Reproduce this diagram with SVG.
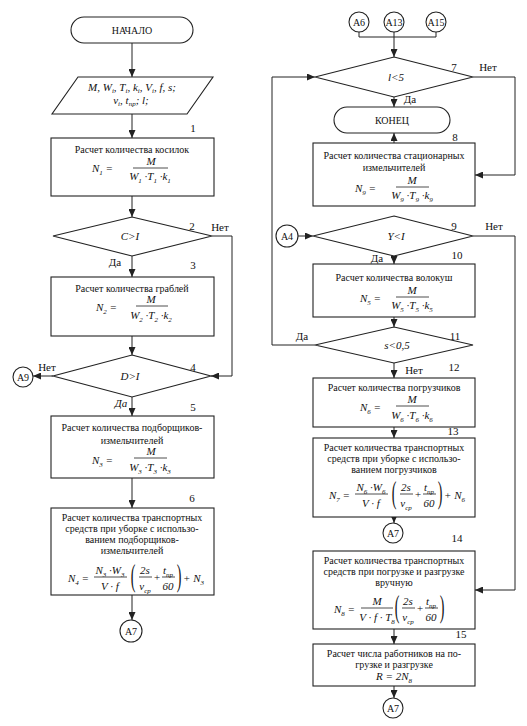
<svg xmlns="http://www.w3.org/2000/svg" width="527" height="726" viewBox="0 0 527 726" font-family="'Liberation Serif','Times New Roman','DejaVu Serif',serif">
<defs>
<style>
.bg{fill:#ffffff}
.box{fill:#ffffff;stroke:#222;stroke-width:1.1}
.c{fill:none;stroke:#222;stroke-width:1}
.fl{stroke:#222;stroke-width:0.8}
.t{font-family:'Liberation Serif','Times New Roman','DejaVu Serif',serif;font-size:10px;fill:#111;text-anchor:middle}
.m{font-family:'Liberation Serif','Times New Roman','DejaVu Serif',serif;font-size:11px;font-style:italic;fill:#111;text-anchor:middle}
.ms{text-anchor:start}
.s{font-size:7px}
.lb{font-family:'Liberation Serif','Times New Roman','DejaVu Serif',serif;font-size:11px;fill:#111;text-anchor:middle}
.p{font-family:'Liberation Serif','Times New Roman','DejaVu Serif',serif;font-size:14px;fill:#111;text-anchor:middle}
</style>
<marker id="ar" viewBox="0 0 8 7" refX="8" refY="3.5" markerWidth="8" markerHeight="7" orient="auto" markerUnits="userSpaceOnUse">
<path d="M0,0 L8,3.5 L0,7 z" fill="#222"/>
</marker>
</defs>
<rect class="bg" x="0" y="0" width="527" height="726"/>

<g id="connectors">
<path class="c" d="M132,43 V77" marker-end="url(#ar)"/>
<path class="c" d="M132,114 V138" marker-end="url(#ar)"/>
<path class="c" d="M132,196 V217" marker-end="url(#ar)"/>
<path class="c" d="M212,236 H232 V376 H211" marker-end="url(#ar)"/>
<path class="c" d="M132,256 V277" marker-end="url(#ar)"/>
<path class="c" d="M132,336 V355" marker-end="url(#ar)"/>
<path class="c" d="M53,376 H33" marker-end="url(#ar)"/>
<path class="c" d="M132,397 V416" marker-end="url(#ar)"/>
<path class="c" d="M132,478 V508" marker-end="url(#ar)"/>
<path class="c" d="M132,595 V620" marker-end="url(#ar)"/>
<path class="c" d="M359,32 V37 H436 V32"/>
<path class="c" d="M394,32 V57" marker-end="url(#ar)"/>
<path class="c" d="M473,77 H515 V175 H475" marker-end="url(#ar)"/>
<path class="c" d="M394,97 V107" marker-end="url(#ar)"/>
<path class="c" d="M394,143 V133" marker-end="url(#ar)"/>
<path class="c" d="M298,236 H313" marker-end="url(#ar)"/>
<path class="c" d="M473,236 H515 V590 H475" marker-end="url(#ar)"/>
<path class="c" d="M394,256 V264" marker-end="url(#ar)"/>
<path class="c" d="M394,317 V327" marker-end="url(#ar)"/>
<path class="c" d="M315,345 H272 V77 H315" marker-end="url(#ar)"/>
<path class="c" d="M394,363 V378" marker-end="url(#ar)"/>
<path class="c" d="M394,427 V438" marker-end="url(#ar)"/>
<path class="c" d="M394,517 V523" marker-end="url(#ar)"/>
<path class="c" d="M394,629 V644" marker-end="url(#ar)"/>
<path class="c" d="M394,686 V698" marker-end="url(#ar)"/>
</g>

<g id="labels">
<text class="lb" x="193" y="132">1</text>
<text class="lb" x="192" y="230">2</text>
<text class="lb" x="220" y="231">Нет</text>
<text class="lb" x="115" y="266">Да</text>
<text class="lb" x="193" y="269">3</text>
<text class="lb" x="47" y="371">Нет</text>
<text class="lb" x="193" y="371">4</text>
<text class="lb" x="121" y="407" font-style="italic">Да</text>
<text class="lb" x="193" y="411">5</text>
<text class="lb" x="192" y="502">6</text>
<text class="lb" x="454" y="71">7</text>
<text class="lb" x="488" y="71">Нет</text>
<text class="lb" x="410" y="103">Да</text>
<text class="lb" x="455" y="141">8</text>
<text class="lb" x="454" y="230">9</text>
<text class="lb" x="494" y="230">Нет</text>
<text class="lb" x="377" y="262">Да</text>
<text class="lb" x="457" y="259">10</text>
<text class="lb" x="302" y="340">Да</text>
<text class="lb" x="455" y="340">11</text>
<text class="lb" x="414" y="374">Нет</text>
<text class="lb" x="454" y="371">12</text>
<text class="lb" x="453" y="435">13</text>
<text class="lb" x="457" y="542">14</text>
<text class="lb" x="461" y="638">15</text>
</g>

<g id="start">
<rect class="box" x="71" y="17" width="122" height="26" rx="13"/>
<text class="t" x="132" y="34">НАЧАЛО</text>
</g>

<g id="input">
<polygon class="box" points="78,77 213,77 187,114 52,114"/>
<text class="m" x="132" y="91">M, W<tspan class="s" dy="2">i</tspan><tspan dy="-2">, T</tspan><tspan class="s" dy="2">i</tspan><tspan dy="-2">, k</tspan><tspan class="s" dy="2">i</tspan><tspan dy="-2">, V</tspan><tspan class="s" dy="2">i</tspan><tspan dy="-2">, f, s;</tspan></text>
<text class="m" x="131" y="104">v<tspan class="s" dy="2">i</tspan><tspan dy="-2">, t</tspan><tspan class="s" dy="2">пр</tspan><tspan dy="-2">; l;</tspan></text>
</g>

<g id="b1">
<rect class="box" x="51" y="138" width="163" height="58"/>
<text class="t" x="132" y="153">Расчет количества косилок</text>
<text class="m ms" x="92" y="172">N<tspan class="s" dy="2.5">1</tspan><tspan dy="-2.5"> =</tspan></text>
<text class="m" x="151" y="165">M</text>
<line class="fl" x1="133" y1="168" x2="168" y2="168"/>
<text class="m" x="150" y="180">W<tspan class="s" dy="2.5">1</tspan><tspan dy="-2.5"> ·T</tspan><tspan class="s" dy="2.5">1</tspan><tspan dy="-2.5"> ·k</tspan><tspan class="s" dy="2.5">1</tspan></text>
</g>

<g id="d2">
<polygon class="box" points="132,217 212,236 132,256 53,236"/>
<text class="m" x="130" y="240">C&gt;I</text>
</g>

<g id="b3">
<rect class="box" x="51" y="277" width="163" height="59"/>
<text class="t" x="132" y="292">Расчет количества граблей</text>
<text class="m ms" x="96" y="311">N<tspan class="s" dy="2.5">2</tspan><tspan dy="-2.5"> =</tspan></text>
<text class="m" x="151" y="303">M</text>
<line class="fl" x1="136" y1="306" x2="168" y2="306"/>
<text class="m" x="151" y="319">W<tspan class="s" dy="2.5">2</tspan><tspan dy="-2.5"> ·T</tspan><tspan class="s" dy="2.5">2</tspan><tspan dy="-2.5"> ·k</tspan><tspan class="s" dy="2.5">2</tspan></text>
</g>

<g id="d4">
<polygon class="box" points="132,355 211,376 132,397 53,376"/>
<text class="m" x="130" y="380">D&gt;I</text>
</g>

<g id="a9">
<circle class="box" cx="23" cy="377" r="10"/>
<text class="t" x="23" y="381">A9</text>
</g>

<g id="b5">
<rect class="box" x="51" y="416" width="163" height="62"/>
<text class="t" x="132" y="431">Расчет количества подборщиков-</text>
<text class="t" x="132" y="444">измельчителей</text>
<text class="m ms" x="92" y="464">N<tspan class="s" dy="2.5">3</tspan><tspan dy="-2.5"> =</tspan></text>
<text class="m" x="151" y="455">M</text>
<line class="fl" x1="134" y1="458" x2="167" y2="458"/>
<text class="m" x="150" y="471">W<tspan class="s" dy="2.5">3</tspan><tspan dy="-2.5"> ·T</tspan><tspan class="s" dy="2.5">3</tspan><tspan dy="-2.5"> ·k</tspan><tspan class="s" dy="2.5">3</tspan></text>
</g>

<g id="b6">
<rect class="box" x="51" y="508" width="163" height="87"/>
<text class="t" x="132" y="521">Расчет количества транспортных</text>
<text class="t" x="132" y="532">средств при уборке с использо-</text>
<text class="t" x="132" y="543">ванием подборщиков-</text>
<text class="t" x="132" y="554">измельчителей</text>
<text class="m ms" x="68" y="582">N<tspan class="s" dy="2.5">4</tspan><tspan dy="-2.5"> =</tspan></text>
<text class="m" x="110" y="574">N<tspan class="s" dy="2.5">3</tspan><tspan dy="-2.5"> ·W</tspan><tspan class="s" dy="2.5">3</tspan></text>
<line class="fl" x1="94" y1="577" x2="127" y2="577"/>
<text class="m" x="110" y="590">V · f</text>
<text class="p" transform="translate(133,586) scale(1,2.3)">(</text>
<text class="m" x="145" y="574">2s</text>
<line class="fl" x1="139" y1="577" x2="152" y2="577"/>
<text class="m" x="145" y="590">v<tspan class="s" dy="2.5">ср</tspan></text>
<text class="m" x="157" y="581">+</text>
<text class="m" x="168" y="574">t<tspan class="s" dy="2.5">пр</tspan></text>
<line class="fl" x1="162" y1="577" x2="175" y2="577"/>
<text class="m" x="168" y="590">60</text>
<text class="p" transform="translate(179,586) scale(1,2.3)">)</text>
<text class="m ms" x="183" y="582">+ N<tspan class="s" dy="2.5">3</tspan></text>
</g>

<g id="a7l">
<circle class="box" cx="131" cy="631" r="11"/>
<text class="t" x="131" y="635">A7</text>
</g>

<g id="a6">
<circle class="box" cx="359" cy="22" r="10"/>
<text class="t" x="359" y="26">A6</text>
</g>
<g id="a13">
<circle class="box" cx="394" cy="22" r="10"/>
<text class="t" x="394" y="26">A13</text>
</g>
<g id="a15">
<circle class="box" cx="436" cy="22" r="10"/>
<text class="t" x="436" y="26">A15</text>
</g>

<g id="d7">
<polygon class="box" points="394,57 473,77 394,97 315,77"/>
<text class="m" x="396" y="81">l&lt;5</text>
</g>

<g id="end">
<rect class="box" x="334" y="107" width="116" height="26" rx="13"/>
<text class="t" x="392" y="124">КОНЕЦ</text>
</g>

<g id="b8">
<rect class="box" x="313" y="143" width="162" height="63"/>
<text class="t" x="394" y="159">Расчет количества стационарных</text>
<text class="t" x="394" y="171">измельчителей</text>
<text class="m ms" x="355" y="192">N<tspan class="s" dy="2.5">9</tspan><tspan dy="-2.5"> =</tspan></text>
<text class="m" x="412" y="184">M</text>
<line class="fl" x1="396" y1="187" x2="429" y2="187"/>
<text class="m" x="412" y="199">W<tspan class="s" dy="2.5">9</tspan><tspan dy="-2.5"> ·T</tspan><tspan class="s" dy="2.5">9</tspan><tspan dy="-2.5"> ·k</tspan><tspan class="s" dy="2.5">9</tspan></text>
</g>

<g id="a4">
<circle class="box" cx="287" cy="236" r="11"/>
<text class="t" x="287" y="240">A4</text>
</g>

<g id="d9">
<polygon class="box" points="394,216 473,236 394,256 313,236"/>
<text class="m" x="396" y="240">Y&lt;I</text>
</g>

<g id="b10">
<rect class="box" x="313" y="264" width="162" height="53"/>
<text class="t" x="394" y="281">Расчет количества волокуш</text>
<text class="m ms" x="360" y="302">N<tspan class="s" dy="2.5">5</tspan><tspan dy="-2.5"> =</tspan></text>
<text class="m" x="412" y="294">M</text>
<line class="fl" x1="396" y1="297" x2="429" y2="297"/>
<text class="m" x="412" y="309">W<tspan class="s" dy="2.5">5</tspan><tspan dy="-2.5"> ·T</tspan><tspan class="s" dy="2.5">5</tspan><tspan dy="-2.5"> ·k</tspan><tspan class="s" dy="2.5">5</tspan></text>
</g>

<g id="d11">
<polygon class="box" points="394,327 473,345 394,363 315,345"/>
<text class="m" x="397" y="349">s&lt;0,5</text>
</g>

<g id="b12">
<rect class="box" x="313" y="378" width="162" height="49"/>
<text class="t" x="394" y="391">Расчет количества погрузчиков</text>
<text class="m ms" x="360" y="411">N<tspan class="s" dy="2.5">6</tspan><tspan dy="-2.5"> =</tspan></text>
<text class="m" x="412" y="403">M</text>
<line class="fl" x1="396" y1="406" x2="429" y2="406"/>
<text class="m" x="412" y="419">W<tspan class="s" dy="2.5">6</tspan><tspan dy="-2.5"> ·T</tspan><tspan class="s" dy="2.5">6</tspan><tspan dy="-2.5"> ·k</tspan><tspan class="s" dy="2.5">6</tspan></text>
</g>

<g id="b13">
<rect class="box" x="313" y="438" width="162" height="79"/>
<text class="t" x="394" y="451">Расчет количества транспортных</text>
<text class="t" x="394" y="462">средств при уборке с использо-</text>
<text class="t" x="394" y="473">ванием погрузчиков</text>
<text class="m ms" x="329" y="499">N<tspan class="s" dy="2.5">7</tspan><tspan dy="-2.5"> =</tspan></text>
<text class="m" x="371" y="491">N<tspan class="s" dy="2.5">6</tspan><tspan dy="-2.5"> ·W</tspan><tspan class="s" dy="2.5">6</tspan></text>
<line class="fl" x1="355" y1="494" x2="388" y2="494"/>
<text class="m" x="371" y="507">V · f</text>
<text class="p" transform="translate(394,503) scale(1,2.3)">(</text>
<text class="m" x="406" y="491">2s</text>
<line class="fl" x1="400" y1="494" x2="413" y2="494"/>
<text class="m" x="406" y="507">v<tspan class="s" dy="2.5">ср</tspan></text>
<text class="m" x="418" y="498">+</text>
<text class="m" x="429" y="491">t<tspan class="s" dy="2.5">пр</tspan></text>
<line class="fl" x1="423" y1="494" x2="436" y2="494"/>
<text class="m" x="429" y="507">60</text>
<text class="p" transform="translate(440,503) scale(1,2.3)">)</text>
<text class="m ms" x="444" y="499">+ N<tspan class="s" dy="2.5">6</tspan></text>
</g>

<g id="a7r1">
<circle class="box" cx="393" cy="533" r="10"/>
<text class="t" x="393" y="537">A7</text>
</g>

<g id="b14">
<rect class="box" x="313" y="551" width="162" height="78"/>
<text class="t" x="394" y="564">Расчет количества транспортных</text>
<text class="t" x="394" y="575">средств при погрузке и разгрузке</text>
<text class="t" x="394" y="586">вручную</text>
<text class="m ms" x="334" y="613">N<tspan class="s" dy="2.5">8</tspan><tspan dy="-2.5"> =</tspan></text>
<text class="m" x="377" y="605">M</text>
<line class="fl" x1="361" y1="608" x2="393" y2="608"/>
<text class="m" x="377" y="621">V · f · T<tspan class="s" dy="2.5">8</tspan></text>
<text class="p" transform="translate(397,617) scale(1,2.3)">(</text>
<text class="m" x="408" y="605">2s</text>
<line class="fl" x1="402" y1="608" x2="415" y2="608"/>
<text class="m" x="408" y="621">v<tspan class="s" dy="2.5">ср</tspan></text>
<text class="m" x="420" y="612">+</text>
<text class="m" x="431" y="605">t<tspan class="s" dy="2.5">пр</tspan></text>
<line class="fl" x1="425" y1="608" x2="438" y2="608"/>
<text class="m" x="431" y="621">60</text>
<text class="p" transform="translate(442,617) scale(1,2.3)">)</text>
</g>

<g id="b15">
<rect class="box" x="313" y="644" width="162" height="42"/>
<text class="t" x="394" y="657">Расчет числа работников на по-</text>
<text class="t" x="394" y="668">грузке и разгрузке</text>
<text class="m" x="394" y="680">R = 2N<tspan class="s" dy="2.5">8</tspan></text>
</g>

<g id="a7r2">
<circle class="box" cx="393" cy="708" r="10"/>
<text class="t" x="393" y="712">A7</text>
</g>
</svg>
